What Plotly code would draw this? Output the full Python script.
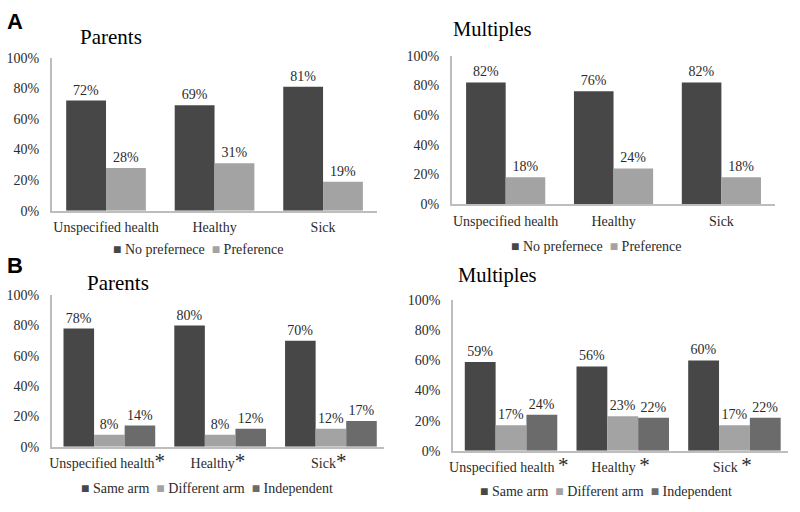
import plotly.graph_objects as go

categories = ["Unspecified health", "Healthy", "Sick"]

# Panel A
a_parents_no_pref = [72, 69, 81]
a_parents_pref = [28, 31, 19]
a_mult_no_pref = [82, 76, 82]
a_mult_pref = [18, 24, 18]

# Panel B
b_parents_same = [78, 80, 70]
b_parents_diff = [8, 8, 12]
b_parents_indep = [14, 12, 17]
b_mult_same = [59, 56, 60]
b_mult_diff = [17, 23, 17]
b_mult_indep = [24, 22, 22]

y_ticks = [0, 20, 40, 60, 80, 100]
y_tick_labels = [f"{v}%" for v in y_ticks]

DARK = "#474747"
LIGHT = "#a3a3a3"
MED = "#6b6b6b"
SERIF = "Liberation Serif"
TXT = "#2b2b2b"

fig = go.Figure()

def add_bar(vals, name, color, xa, ya, width, offset):
    fig.add_trace(go.Bar(
        x=categories, y=vals, name=name, marker=dict(color=color, line=dict(width=0)),
        width=width, offset=offset, showlegend=False,
        text=[f"{v}%" for v in vals], textposition="outside", cliponaxis=False,
        textfont=dict(family=SERIF, size=14, color=TXT),
        xaxis=xa, yaxis=ya,
    ))

wa = 0.367
wb = 0.276
add_bar(a_parents_no_pref, "No prefernece", DARK, "x", "y", wa, -wa)
add_bar(a_parents_pref, "Preference", LIGHT, "x", "y", wa, 0)
add_bar(a_mult_no_pref, "No prefernece", DARK, "x2", "y2", wa, -wa)
add_bar(a_mult_pref, "Preference", LIGHT, "x2", "y2", wa, 0)
add_bar(b_parents_same, "Same arm", DARK, "x3", "y3", wb, -1.5 * wb + 0.02)
add_bar(b_parents_diff, "Different arm", LIGHT, "x3", "y3", wb, -0.5 * wb + 0.02)
add_bar(b_parents_indep, "Independent", MED, "x3", "y3", wb, 0.5 * wb + 0.02)
add_bar(b_mult_same, "Same arm", DARK, "x4", "y4", wb, -1.5 * wb + 0.02)
add_bar(b_mult_diff, "Different arm", LIGHT, "x4", "y4", wb, -0.5 * wb + 0.02)
add_bar(b_mult_indep, "Independent", MED, "x4", "y4", wb, 0.5 * wb + 0.02)

def xaxis(domain, anchor, ticktext=None):
    d = dict(domain=domain, anchor=anchor, showline=True, linecolor="#bdbdbd", linewidth=1.5,
             ticks="", showgrid=False, tickfont=dict(family=SERIF, size=14, color=TXT),
             range=[-0.5, 2.5], ticklabelstandoff=3)
    if ticktext:
        d.update(tickmode="array", tickvals=categories, ticktext=ticktext)
    return d

def yaxis(domain, anchor):
    return dict(domain=domain, anchor=anchor, range=[0, 100], tickvals=y_ticks, ticktext=y_tick_labels,
                showline=True, linecolor="#bdbdbd", linewidth=1.5, showgrid=False, ticks="",
                zeroline=False, tickfont=dict(family=SERIF, size=14, color=TXT), ticklabelstandoff=8)

STAR = '<span style="font-size:21px">*</span>'
b_parent_ticks = [c + STAR for c in categories]
b_mult_ticks = [c + "&nbsp;" + STAR for c in categories]

fig.update_layout(
    width=800, height=512, margin=dict(l=0, r=0, t=0, b=0),
    font=dict(family=SERIF, color=TXT),
    plot_bgcolor="white", paper_bgcolor="white",
    barmode="group",
    xaxis=xaxis([0.06, 0.469], "y"),
    yaxis=yaxis([0.590, 0.898], "x"),
    xaxis2=xaxis([0.5625, 0.969], "y2"),
    yaxis2=yaxis([0.6035, 0.902], "x2"),
    xaxis3=xaxis([0.06, 0.4775], "y3", b_parent_ticks),
    yaxis3=yaxis([0.115, 0.42], "x3"),
    xaxis4=xaxis([0.564, 0.985], "y4", b_mult_ticks),
    yaxis4=yaxis([0.107, 0.41], "x4"),
    showlegend=False,
)

def legend_text(items):
    parts = [f'<span style="color:{c}">■</span> {n}' for n, c in items]
    return "&nbsp;&nbsp;".join(parts)

leg_a = [("No prefernece", DARK), ("Preference", LIGHT)]
leg_b = [("Same arm", DARK), ("Different arm", LIGHT), ("Independent", MED)]

annotations = [
    dict(text="<b>A</b>", x=1 / 800, y=1 - 15 / 512, xanchor="left", font=dict(family="Liberation Sans", size=22, color="black")),
    dict(text="<b>B</b>", x=1 / 800, y=1 - 266 / 512, xanchor="left", font=dict(family="Liberation Sans", size=22, color="black")),
    dict(text="Parents", x=74 / 800, y=1 - 31 / 512, xanchor="left", font=dict(family=SERIF, size=21, color="black")),
    dict(text="Multiples", x=449 / 800, y=1 - 23 / 512, xanchor="left", font=dict(family=SERIF, size=20.5, color="black")),
    dict(text="Parents", x=81 / 800, y=1 - 284 / 512, xanchor="left", font=dict(family=SERIF, size=21, color="black")),
    dict(text="Multiples", x=454 / 800, y=1 - 277 / 512, xanchor="left", font=dict(family=SERIF, size=20.5, color="black")),
    dict(text=legend_text(leg_a), x=195 / 800, y=1 - 250 / 512, xanchor="center", font=dict(family=SERIF, size=14, color=TXT)),
    dict(text=legend_text(leg_a), x=595 / 800, y=1 - 247 / 512, xanchor="center", font=dict(family=SERIF, size=14, color=TXT)),
    dict(text=legend_text(leg_b), x=204 / 800, y=1 - 496 / 512, xanchor="center", font=dict(family=SERIF, size=14, color=TXT)),
    dict(text=legend_text(leg_b), x=605 / 800, y=1 - 499 / 512, xanchor="center", font=dict(family=SERIF, size=14, color=TXT)),
]
for a in annotations:
    fig.add_annotation(xref="paper", yref="paper", yanchor="middle", showarrow=False, **a)

fig.write_html("out.html", config={"displayModeBar": False},
               post_script="document.body.style.margin='0';")
